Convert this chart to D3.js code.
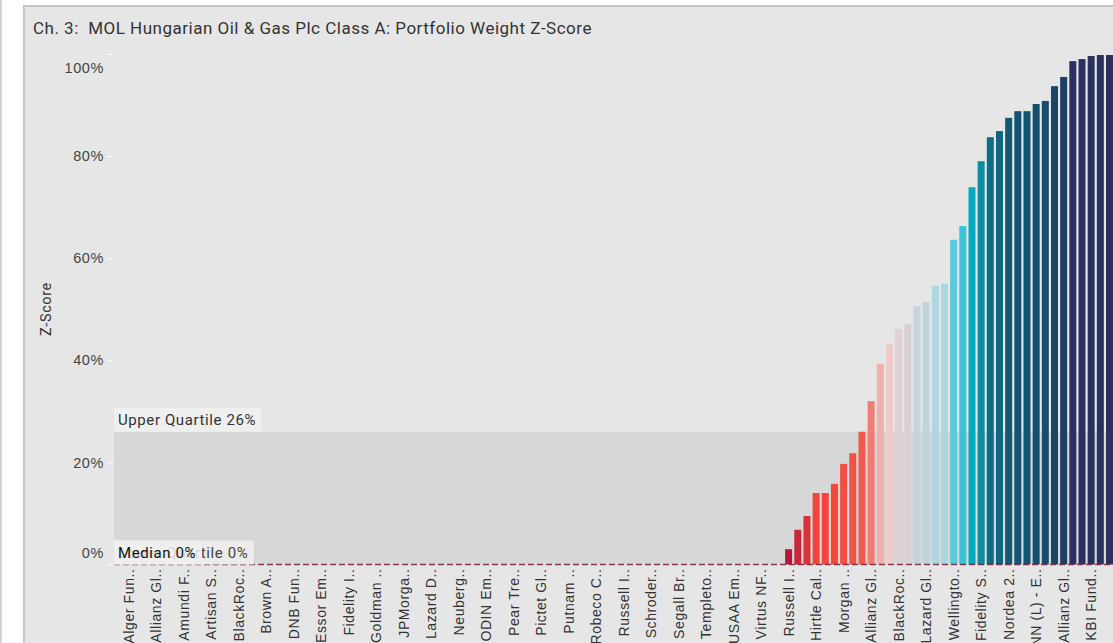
<!DOCTYPE html>
<html>
<head>
<meta charset="utf-8">
<script src="https://cdn.jsdelivr.net/npm/d3@7"></script>
<style>
    html, body { margin: 0; padding: 0; background: #ffffff; }
    svg { display: block; font-family: Roboto, "Noto Sans", sans-serif; }
    svg text { letter-spacing: 0.6px; white-space: pre; }
</style>
</head>
<body>
<svg id="chart" width="1113" height="643"></svg>
<script>
let chartTitle = "Ch. 3:  MOL Hungarian Oil & Gas Plc Class A: Portfolio Weight Z-Score"
let yTicks = [0, 20, 40, 60, 80, 100]
// only every third fund is labelled on the axis
let fundLabels = [
    "Alger Fun..", "Allianz Gl..", "Amundi F..", "Artisan S..", "BlackRoc..", "Brown A..",
    "DNB Fun..", "Essor Em..", "Fidelity I..", "Goldman ..", "JPMorga..", "Lazard D..",
    "Neuberg..", "ODIN Em..", "Pear Tre..", "Pictet Gl..", "Putnam ..", "Robeco C..",
    "Russell I..", "Schroder..", "Segall Br..", "Templeto..", "USAA Em..", "Virtus NF..",
    "Russell I..", "Hirtle Cal..", "Morgan ..", "Allianz Gl..", "BlackRoc..", "Lazard Gl..",
    "Wellingto..", "Fidelity S..", "Nordea 2..", "NN (L) - E..", "Allianz Gl..", "KBI Fund.."
]
let zScores = [
    0, 0, 0, 0, 0, 0, 0, 0, 0, 0, 0, 0,
    0, 0, 0, 0, 0, 0, 0, 0, 0, 0, 0, 0,
    0, 0, 0, 0, 0, 0, 0, 0, 0, 0, 0, 0,
    0, 0, 0, 0, 0, 0, 0, 0, 0, 0, 0, 0,
    0, 0, 0, 0, 0, 0, 0, 0, 0, 0, 0, 0,
    0, 0, 0, 0, 0, 0, 0, 0, 0, 0, 0, 0,
    3.0, 6.8, 9.5, 14.0, 14.0, 15.8, 19.7, 21.8, 26.0, 32.0, 39.3, 43.2,
    46.1, 47.1, 50.6, 51.4, 54.6, 55.0, 63.6, 66.3, 73.9, 79.0, 83.7, 84.9,
    87.5, 88.8, 88.8, 90.2, 90.8, 93.7, 95.5, 98.6, 99.0, 99.6, 99.8, 99.8
]
let upperQuartile = 26,
    lowerQuartile = 0,
    median = 0

let plotLeft = 114,
    plotRight = 1124,
    plotTop = 54,
    plotBottom = 564.5;

let svg = d3.select("#chart")

// page edge and panel
svg.append("rect").attr("x", 0).attr("y", 0).attr("width", 2).attr("height", 643).attr("fill", "#d4d4d4")
svg.append("rect").attr("x", 23).attr("y", 5).attr("width", 1113).attr("height", 650).attr("fill", "#c6c6c6")
svg.append("rect").attr("x", 25).attr("y", 7).attr("width", 1113).attr("height", 650).attr("fill", "#e6e6e6")

svg.append("text")
    .attr("x", 33).attr("y", 34)
    .attr("font-size", 17)
    .attr("fill", "#333")
    .attr("textLength", 559)
    .attr("lengthAdjust", "spacing")
    .text(chartTitle)

let idx = d3.range(zScores.length)
let x = d3.scaleBand(idx, [plotLeft, plotRight]).paddingInner(0.237).paddingOuter(1.2)
let y = d3.scaleLinear([0, 100], [plotBottom, plotTop])
let color = d3.scaleLinear()
    .domain([3, 14, 26, 32, 39, 43, 46.5, 51, 55, 64, 66.5, 74, 79, 84, 88, 91, 95.5, 98.5, 100])
    .range(["#b5173a", "#f4433a", "#f05a4c", "#f07c72", "#f2aeaa", "#efcccb", "#ddd0d3", "#c3d4da",
            "#a9d8e2", "#56c8d9", "#3bc3d5", "#03aabf", "#0a8ca3", "#0b6b85", "#0f5874", "#174c6e",
            "#1f3e66", "#2b3160", "#2b315e"])
    .clamp(true)

// quartile band
svg.append("rect")
    .attr("x", plotLeft).attr("y", y(upperQuartile))
    .attr("width", plotRight - plotLeft).attr("height", y(lowerQuartile) - y(upperQuartile))
    .attr("fill", "#d7d7d7")

// y axis
let gy = svg.append("g")
    .attr("transform", `translate(${plotLeft - 1}, 0)`)
    .call(d3.axisLeft(y).tickValues(yTicks).tickFormat(d => d + "%").tickSize(6).tickPadding(3))
gy.select(".domain").remove()
gy.selectAll("line").attr("stroke", "#ffffff")
gy.selectAll("text").attr("font-size", 14.5).attr("fill", "#444").attr("font-family", null)
gy.selectAll(".tick").filter(d => d == 100).select("text").attr("dy", "1.3em")
gy.selectAll(".tick").filter(d => d == 0).select("text").attr("dy", "-0.5em")

svg.append("text")
    .attr("transform", `translate(51, 309) rotate(-90)`)
    .attr("text-anchor", "middle")
    .attr("font-size", 14.5)
    .attr("fill", "#333")
    .text("Z-Score")

// bars
svg.append("g")
    .selectAll("rect")
    .data(zScores)
    .join("rect")
    .attr("x", (d, i) => x(i))
    .attr("y", d => y(d))
    .attr("width", x.bandwidth())
    .attr("height", d => y(0) - y(d))
    .attr("fill", d => color(d))

// median line
svg.append("line")
    .attr("x1", plotLeft).attr("x2", plotRight)
    .attr("y1", y(median)).attr("y2", y(median))
    .attr("stroke", "#7a1c3a")
    .attr("stroke-width", 1.5)
    .attr("stroke-dasharray", "6,3")
    .attr("opacity", 0.85)

// x axis
let gx = svg.append("g")
    .attr("transform", `translate(0, ${plotBottom})`)
    .call(d3.axisBottom(x).tickValues(idx.filter(i => i % 3 == 0)).tickFormat(i => fundLabels[i / 3]).tickSize(0))
gx.select(".domain").remove()
gx.selectAll("text")
    .attr("transform", "rotate(-90)")
    .attr("text-anchor", "end")
    .attr("x", -4)
    .attr("y", 0)
    .attr("dy", "0.36em")
    .attr("font-size", 14)
    .attr("letter-spacing", "0.2px")
    .attr("font-family", null)
    .attr("fill", "#333")

// quartile labels
function quartileLabel(txt, yPos, w, fill, textFill) {
    let g = svg.append("g").attr("transform", `translate(${plotLeft}, ${yPos})`)
    g.append("rect").attr("x", 0).attr("y", -24).attr("width", w).attr("height", 24).attr("fill", fill)
    g.append("text")
        .attr("x", 4).attr("y", -7)
        .attr("font-size", 15)
        .attr("fill", textFill)
        .text(txt)
}
quartileLabel("Upper Quartile " + upperQuartile + "%", y(upperQuartile), 147, "#efefef", "#333")
quartileLabel("Lower Quartile " + lowerQuartile + "%", y(lowerQuartile), 140, "#ececec", "#444")
quartileLabel("Median " + median + "%", y(median), 88, "rgba(240,240,240,0.85)", "#111")
</script>
</body>
</html>
